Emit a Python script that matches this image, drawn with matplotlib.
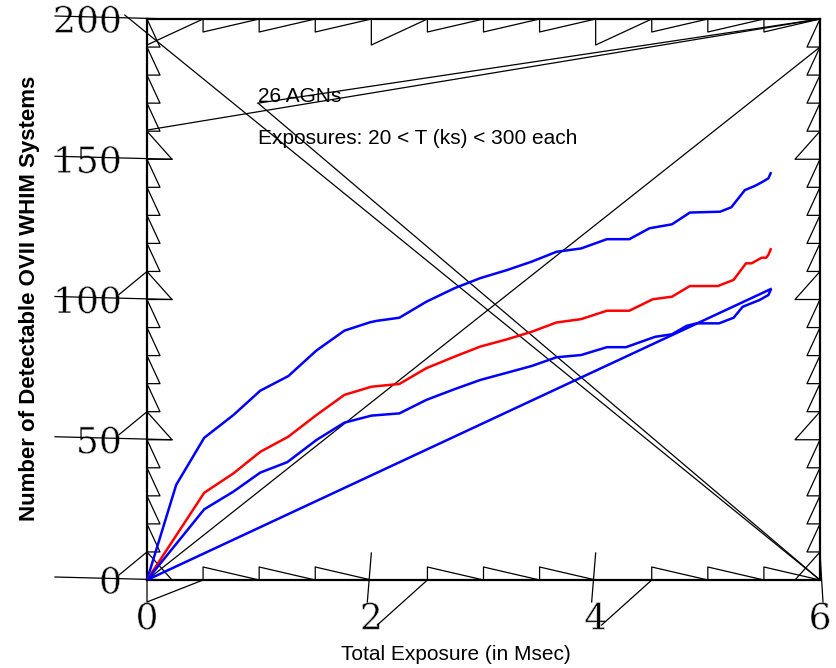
import numpy as np
import matplotlib
matplotlib.use("Agg")
import matplotlib.pyplot as plt
import matplotlib.patheffects as pe

# ---------------- data ----------------
upper_x = [0, 0.26, 0.51, 0.77, 1.01, 1.26, 1.51, 1.76, 1.99, 2.05, 2.25, 2.49, 2.74, 2.97, 3.21,
           3.43, 3.65, 3.87, 4.10, 4.30, 4.48, 4.68, 4.84, 5.11, 5.21, 5.33, 5.42, 5.49, 5.54, 5.56]
upper_y = [0, 33.9, 50.7, 58.8, 67.5, 72.7, 81.8, 88.9, 91.9, 92.4, 93.5, 99.2, 104.0, 107.6, 110.5,
           113.5, 117.0, 118.2, 121.5, 121.5, 125.4, 126.8, 131.0, 131.3, 132.9, 139.0, 140.5, 142.0, 143.2, 145.0]

mid_x = [0, 0.51, 0.77, 1.01, 1.26, 1.51, 1.76, 2.0, 2.25, 2.49, 2.74, 2.97, 3.21, 3.43, 3.65,
         3.87, 4.10, 4.30, 4.51, 4.68, 4.84, 5.09, 5.23, 5.34, 5.39, 5.48, 5.52, 5.54, 5.56]
mid_y = [0, 31.1, 38.0, 45.7, 51.1, 58.8, 66.0, 68.9, 69.9, 75.5, 79.6, 83.2, 85.8, 88.5, 91.8,
         93.0, 96.0, 96.0, 100.1, 101.0, 104.8, 104.8, 107.0, 112.9, 112.9, 114.9, 114.9, 115.9, 117.9]

lower_x = [0, 0.51, 0.77, 1.01, 1.25, 1.51, 1.76, 2.0, 2.25, 2.49, 2.74, 2.97, 3.21, 3.43, 3.65,
           3.87, 4.10, 4.27, 4.53, 4.68, 4.81, 4.90, 5.10, 5.23, 5.31, 5.46, 5.54, 5.56]
lower_y = [0, 25.2, 31.5, 38.3, 42.0, 49.9, 56.1, 58.6, 59.4, 64.2, 68.0, 71.3, 73.9, 76.3, 79.4,
           80.2, 83.0, 83.0, 86.7, 87.6, 90.6, 91.5, 91.5, 93.5, 97.4, 99.8, 101.6, 103.4]

linear_x = [0, 5.56]
linear_y = [0, 103.7]

x_ticks = [0, 2, 4, 6]
y_ticks = [0, 50, 100, 150, 200]
x_minor_step = 0.5
y_minor_step = 10

title_lines = ["26 AGNs", "Exposures: 20 < T (ks) < 300 each"]
x_label = "Total Exposure (in Msec)"
y_label = "Number of Detectable OVII WHIM Systems"

# ---------------- figure ----------------
W, H = 837, 668
fig = plt.figure(figsize=(W / 100, H / 100), dpi=100)
L, R, T, B = 147, 820, 19, 580
ax = fig.add_axes([L / W, 1 - B / H, (R - L) / W, (B - T) / H])
ax.set_xlim(0, 6)
ax.set_ylim(0, 200)

blue = "#0000ff"
red = "#ff0000"
ax.plot(upper_x, upper_y, color=blue, lw=1.8, zorder=3)
ax.plot(mid_x, mid_y, color=red, lw=1.8, zorder=3)
ax.plot(lower_x, lower_y, color=blue, lw=1.8, zorder=3)
ax.plot(linear_x, linear_y, color=blue, lw=1.8, zorder=3)

for s in ax.spines.values():
    s.set_linewidth(1.6)

serif = ["DejaVu Serif", "Liberation Serif"]
ax.set_xticks(x_ticks)
ax.set_yticks(y_ticks)
ax.tick_params(axis="x", length=0, labelsize=26, pad=16)
ax.tick_params(axis="y", length=0, labelsize=26, pad=18)
thin = [pe.Normal(), pe.Stroke(linewidth=0.45, foreground="white")]
for lab in ax.get_xticklabels() + ax.get_yticklabels():
    lab.set_fontfamily(serif)
    lab.set_path_effects(thin)

# pixel -> data helpers
px = 6 / (R - L)
py = 200 / (B - T)
kw = dict(color="black", lw=0.9, clip_on=False, zorder=2)

xmin_all = np.arange(0, 6, x_minor_step)
# top sawtooth
for xi in xmin_all:
    ln = 26 if xi in x_ticks else 13
    ax.plot([xi, xi, xi + x_minor_step], [200, 200 - ln * py, 200], **kw)
# bottom sawtooth
for xi in xmin_all:
    if xi in x_ticks:
        continue
    ax.plot([xi, xi, xi + x_minor_step], [0, 13 * py, 0], **kw)
for xm in x_ticks[1:-1]:
    ax.plot([xm, xm - 4 * px], [27 * py, -22 * py], **kw)
    ax.plot([xm + 6 * px, xm + x_minor_step], [-45 * py, 0], **kw)
ax.plot([0, 0, x_minor_step], [0, -22 * py, 0], **kw)
ax.plot([6, 6 + 3 * px], [27 * py, -22 * py], **kw)

# left / right sawtooth
ys = np.arange(200, 0, -y_minor_step)
for yj in ys:
    yn = yj - y_minor_step
    ln = 25 if yn in y_ticks else 13
    ax.plot([0, ln * px, 0], [yj, yn, yn], **kw)
    ax.plot([6, 6 - ln * px, 6], [yj, yn, yn], **kw)

# label connector strokes on the y axis
for ym in y_ticks:
    ax.plot([-92 * px, 25 * px], [ym + 3 * py, ym], **kw)
for ym in y_ticks[:-2]:
    ax.plot([-28 * px, 0], [ym + 5 * py, ym + y_minor_step], **kw)

# long stray strokes (axes fraction)
stray = [
    ((0.0, 0.0), (1.0, 0.95)),
    ((-0.033, 1.007), (1.0, 0.0)),
    ((0.165, 0.850), (1.0, 0.0)),
    ((0.0, 0.802), (1.0, 1.0)),
    ((0.165, 0.850), (1.0, 1.0)),
]
for (x0, y0), (x1, y1) in stray:
    ax.plot([x0, x1], [y0, y1], transform=ax.transAxes, color="black", lw=0.9,
            clip_on=False, zorder=2)

sans = ["Liberation Sans", "DejaVu Sans"]
ax.text((258 - L) / (R - L), (B - 97) / (B - T), title_lines[0], transform=ax.transAxes,
        fontsize=15, family=sans, va="center", ha="left")
ax.text((258 - L) / (R - L), (B - 139) / (B - T), title_lines[1], transform=ax.transAxes,
        fontsize=15, family=sans, va="center", ha="left")

fig.text(456 / W, 1 - 655 / H, x_label, fontsize=15, family=sans, ha="center", va="center")
fig.text(30 / W, 1 - 298 / H, y_label, fontsize=16, family=sans, ha="center", va="center",
         rotation=90, fontweight="bold")

fig.savefig("out.png", dpi=100)
